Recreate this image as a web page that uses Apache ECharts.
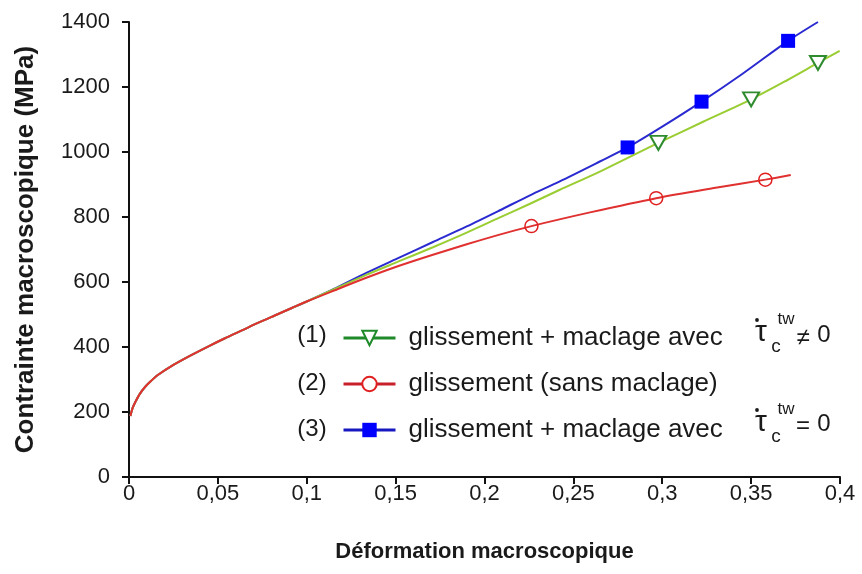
<!DOCTYPE html>
<html>
<head>
<meta charset="utf-8">
<script src="https://cdn.jsdelivr.net/npm/echarts@6/dist/echarts.min.js"></script>
<style>html,body{margin:0;padding:0;background:#fff}#c{width:862px;height:574px}</style>
</head>
<body>
<div id="c"></div>
<script>
// ---- data ----
const xTicks = [0, 0.05, 0.1, 0.15, 0.2, 0.25, 0.3, 0.35, 0.4];
const yTicks = [0, 200, 400, 600, 800, 1000, 1200, 1400];
const seriesNames = ['(1) glissement + maclage avec', '(2) glissement (sans maclage)', '(3) glissement + maclage avec'];

// common initial part (all three curves coincide)
const commonX = [0.0008, 0.002, 0.0035, 0.006, 0.009, 0.0125, 0.016, 0.025, 0.035, 0.045, 0.054, 0.0635, 0.0725, 0.082, 0.0916, 0.1];
const commonY = [188, 212, 230, 255, 277, 296, 313, 345, 375, 403, 427, 451, 474, 497, 520, 540];

// (1) green
const greenX = [0.115, 0.1335, 0.152, 0.171, 0.19, 0.2084, 0.2253, 0.2421, 0.2646, 0.323, 0.37, 0.3998];
const greenY = [577, 622, 664, 707, 752, 798, 840, 883, 939, 1093, 1220, 1311];
const greenMarkX = [0.2978, 0.350, 0.3876];
const greenMarkY = [1028, 1162, 1274];

// (2) red
const redX = [0.115, 0.1335, 0.152, 0.171, 0.19, 0.208, 0.26, 0.33, 0.3723];
const redY = [573, 613, 650, 684, 716, 745, 815, 890, 929];
const redMarkX = [0.2264, 0.2966, 0.358];
const redMarkY = [772, 858, 915];

// (3) blue
const blueX = [0.115, 0.1335, 0.152, 0.171, 0.19, 0.2084, 0.2253, 0.2421, 0.2646, 0.30, 0.345, 0.3876];
const blueY = [578, 628, 675, 723, 771, 820, 866, 909, 970, 1078, 1240, 1400];
const blueMarkX = [0.2805, 0.3221, 0.3708];
const blueMarkY = [1014, 1155, 1342];

function build(xs, ys, mx, my) {
  const pts = [];
  commonX.forEach((x, i) => pts.push({ value: [x, commonY[i]], symbol: 'none' }));
  xs.forEach((x, i) => pts.push({ value: [x, ys[i]], symbol: 'none' }));
  mx.forEach((x, i) => pts.push({ value: [x, my[i]] }));
  pts.sort((a, b) => a.value[0] - b.value[0]);
  return pts;
}

const txt = '#1a1a1a';
const chart = echarts.init(document.getElementById('c'), null, { renderer: 'canvas' });

function T(text, x, y, size) {
  return {
    type: 'text', x: x, y: y, silent: true,
    style: { text: text, fill: txt, font: size + 'px "Liberation Sans", Arial, sans-serif', align: 'center', verticalAlign: 'middle', textAlign: 'center', textVerticalAlign: 'middle' }
  };
}
function Dot(x, y) {
  return { type: 'circle', shape: { cx: x, cy: y, r: 1.9 }, style: { fill: txt }, silent: true };
}

const option = {
  animation: false,
  backgroundColor: '#fff',
  grid: { left: 129, right: 22, top: 22, bottom: 97 },
  xAxis: {
    type: 'value', min: 0, max: 0.4, interval: 0.05,
    name: 'Déformation macroscopique', nameLocation: 'middle', nameGap: 64,
    nameTextStyle: { fontFamily: 'Liberation Sans', fontWeight: 'bold', fontSize: 22, color: txt },
    axisLine: { lineStyle: { color: '#111', width: 2 } },
    axisTick: { show: true, length: 7, lineStyle: { color: '#111', width: 2 } },
    splitLine: { show: false },
    axisLabel: {
      margin: 6, fontFamily: 'Liberation Sans', fontSize: 22, color: txt,
      formatter: v => String(parseFloat(v.toFixed(2))).replace('.', ',')
    }
  },
  yAxis: {
    type: 'value', min: 0, max: 1400, interval: 200,
    name: 'Contrainte macroscopique (MPa)', nameLocation: 'middle', nameGap: 90, nameRotate: 90,
    nameTextStyle: { fontFamily: 'Liberation Sans', fontWeight: 'bold', fontSize: 26, color: txt },
    axisLine: { show: true, lineStyle: { color: '#111', width: 2 } },
    axisTick: { show: true, length: 7, lineStyle: { color: '#111', width: 2 } },
    splitLine: { show: false },
    axisLabel: { margin: 19, fontFamily: 'Liberation Sans', fontSize: 22, color: txt, formatter: v => String(v) }
  },
  legend: {
    orient: 'vertical', left: 342, top: 325, padding: 0,
    itemWidth: 52, itemHeight: 18, itemGap: 20,
    textStyle: { fontFamily: 'Liberation Sans', fontSize: 26, color: txt, lineHeight: 26 },
    formatter: n => '{a|' + n.replace(/^\(\d\)\s*/, '') + '}',
    data: [
      { name: seriesNames[0], lineStyle: { color: '#1f8a2a', width: 3 }, itemStyle: { color: '#ffffff', borderColor: '#1f8a2a', borderWidth: 2 } },
      { name: seriesNames[1], lineStyle: { color: '#c8202a', width: 3 }, itemStyle: { color: '#ffffff', borderColor: '#e02020', borderWidth: 2 } },
      { name: seriesNames[2], lineStyle: { color: '#1818c0', width: 3 }, itemStyle: { color: '#0000ff' } }
    ]
  },
  series: [
    {
      name: seriesNames[0], type: 'line', smooth: 0.3,
      data: build(greenX, greenY, greenMarkX, greenMarkY),
      symbol: 'triangle', symbolRotate: 180, symbolSize: [16, 14], showSymbol: true, showAllSymbol: true,
      lineStyle: { color: '#9acd32', width: 2 },
      itemStyle: { color: '#ffffff', borderColor: '#2e8b2e', borderWidth: 2 },
      z: 3
    },
    {
      name: seriesNames[1], type: 'line', smooth: 0.3,
      data: build(redX, redY, redMarkX, redMarkY),
      symbol: 'circle', symbolSize: 13, showSymbol: true, showAllSymbol: true,
      lineStyle: { color: '#e03030', width: 2 },
      itemStyle: { color: 'rgba(255,255,255,0)', borderColor: '#e02020', borderWidth: 1.5 },
      z: 4
    },
    {
      name: seriesNames[2], type: 'line', smooth: 0.3,
      data: build(blueX, blueY, blueMarkX, blueMarkY),
      symbol: 'rect', symbolSize: 14, showSymbol: true, showAllSymbol: true,
      lineStyle: { color: '#2a2ad0', width: 2 },
      itemStyle: { color: '#0000ff' },
      z: 2
    }
  ],
  graphic: [
    T('(1)', 312, 335, 24), T('(2)', 312, 383, 24), T('(3)', 312, 429, 24),
    // row 1 : tau dot ^tw _c != 0
    T('τ', 761, 333, 30), Dot(757, 320), T('tw', 786, 319, 17), T('c', 776, 347, 19),
    T('≠', 803, 338, 24), T('0', 824, 335, 24),
    // row 3 : tau dot ^tw _c = 0
    T('τ', 761, 423, 30), Dot(757, 410), T('tw', 786, 409, 17), T('c', 776, 437, 19),
    T('=', 803, 426, 24), T('0', 824, 424, 24)
  ]
};
option.legend.textStyle.rich = { a: { fontFamily: 'Liberation Sans', fontSize: 26, color: txt, padding: [0, 0, 0, 8] } };
chart.setOption(option);
</script>
</body>
</html>
